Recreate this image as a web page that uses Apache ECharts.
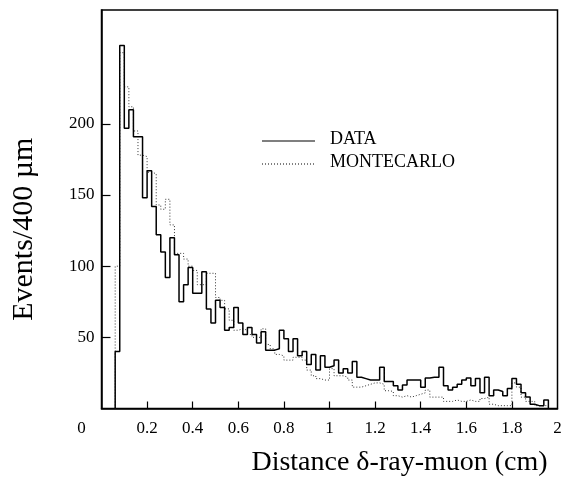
<!DOCTYPE html>
<html>
<head>
<meta charset="utf-8">
<script src="https://cdn.jsdelivr.net/npm/echarts@6/dist/echarts.min.js"></script>
<style>
html,body{margin:0;padding:0;background:#fff;}
#chart{width:565px;height:483px;}
</style>
</head>
<body>
<div id="chart"></div>
<script>
// Histogram bins: lower edge of first bin and bin width (cm)
const binStart = 0.06;
const binWidth = 0.02;
// DATA counts per bin (Events/400 µm)
const dataCounts = [40,255,197,210,191,191,148,167,142,122,110,92,120,108,75,87,99,81,81,96,70,60,76,71,55,57,71,60,52,57,52,46,54,41,41,42,55,49,40,49,37,40,31,38,27,37,29,30,34,25,28,25,33,22,21,20,20,20,29,19,19,16,13,16.5,20,20,20,15,21.5,22,22,29,16,13,15,17,20,21.5,16,21,11,22,9,13,12,9,14,21,17,11,8,3,2,2,6];
// MONTECARLO counts per bin
const mcCounts = [100,250,226,212,195,178,177,166,165,143,140,147,129,109,109,105,100,97,87,87,95,95,78,76,70,62,55,56,55,52,50,50,56,45,42,38,37,34,34,36,36,34,27,23,21,20,20,28,23,23,22,20,15,15,16,17,18,18,17,12.5,12,9,8,9,8,9,10,11,13,8,8,8,5,5,6,5,5,6,5,5,7,8,3,2,2,2,2,18,15,8,5,5,2,2,2];
// axis tick values
const xTickValues = [0.2,0.4,0.6,0.8,1,1.2,1.4,1.6,1.8];
const xLabelValues = [0,0.2,0.4,0.6,0.8,1,1.2,1.4,1.6,1.8,2];
const yTickValues = [50,100,150,200];

function stepData(counts){
  const pts = [[binStart, 0]];
  counts.forEach((c,i)=>{ pts.push([+(binStart + i*binWidth).toFixed(4), c]); });
  pts.push([+(binStart + counts.length*binWidth).toFixed(4), 0]);
  return pts;
}

const FONT = '"Liberation Serif","Times New Roman",serif';
const chart = echarts.init(document.getElementById('chart'), null, {renderer:'canvas'});
chart.setOption({
  animation:false,
  backgroundColor:'#fff',
  grid:{left:101.5,right:7.5,top:10,bottom:74.5,show:true,borderColor:'#000',borderWidth:1.5,backgroundColor:'transparent'},
  xAxis:{
    type:'value',min:0,max:2,interval:0.2,
    name:'Distance δ-ray-muon (cm)',nameLocation:'middle',nameGap:40,
    nameTextStyle:{fontFamily:FONT,fontSize:28,color:'#000',padding:[0,0,0,140]},
    axisLine:{show:true,onZero:false,lineStyle:{color:'#000',width:1.5}},
    axisTick:{show:true,inside:true,length:7,customValues:xTickValues,lineStyle:{color:'#000',width:1.2}},
    axisLabel:{show:true,margin:12,customValues:xLabelValues,fontFamily:FONT,fontSize:17,color:'#000',
      formatter:function(v){ return v===0 ? '{z|0}' : String(v); },
      rich:{z:{fontFamily:FONT,fontSize:17,color:'#000',padding:[0,40,0,0]}}},
    splitLine:{show:false}
  },
  yAxis:{
    type:'value',min:0,max:280,interval:50,
    name:'Events/400 µm',nameLocation:'middle',nameGap:62,nameRotate:90,
    nameTextStyle:{fontFamily:FONT,fontSize:30,color:'#000',padding:[0,40,0,0]},
    axisLine:{show:true,lineStyle:{color:'#000',width:1.5}},
    axisTick:{show:true,inside:true,length:9,customValues:yTickValues,lineStyle:{color:'#000',width:1.2}},
    axisLabel:{show:true,margin:7,customValues:yTickValues,fontFamily:FONT,fontSize:17,color:'#000'},
    splitLine:{show:false}
  },
  graphic:[
    {type:'line',shape:{x1:262,y1:141,x2:315,y2:141},style:{stroke:'#000',lineWidth:1.2}},
    {type:'text',left:330,top:130,style:{text:'DATA',fontFamily:FONT,fontSize:18,fill:'#000'}},
    {type:'line',shape:{x1:262,y1:164,x2:315,y2:164},style:{stroke:'#000',lineWidth:1,lineDash:[1,2]}},
    {type:'text',left:330,top:153,style:{text:'MONTECARLO',fontFamily:FONT,fontSize:18,fill:'#000'}}
  ],
  series:[
    {name:'MONTECARLO',type:'line',step:'end',data:stepData(mcCounts),symbol:'none',
     lineStyle:{color:'#333',width:1,type:[1,2]},z:2},
    {name:'DATA',type:'line',step:'end',data:stepData(dataCounts),symbol:'none',
     lineStyle:{color:'#000',width:1.5},z:3}
  ]
});
</script>
</body>
</html>
